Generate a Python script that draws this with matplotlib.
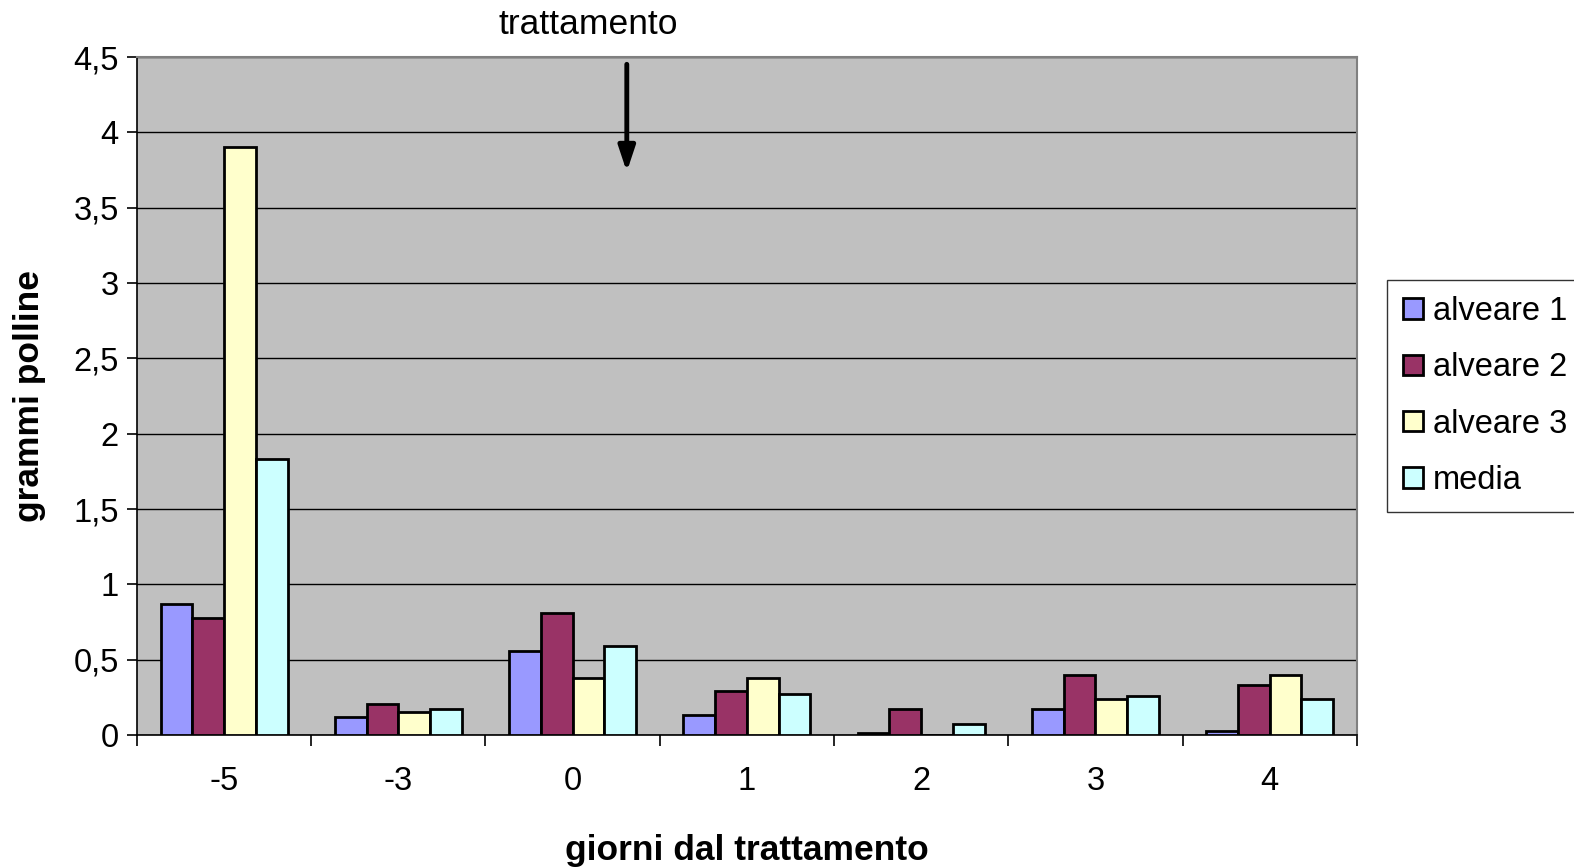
import matplotlib
matplotlib.use("Agg")
import matplotlib.pyplot as plt
import numpy as np

plt.rcParams['font.family'] = ['Liberation Sans', 'DejaVu Sans']

categories = ["-5", "-3", "0", "1", "2", "3", "4"]
alveare1 = [0.87, 0.12, 0.56, 0.13, 0.015, 0.17, 0.03]
alveare2 = [0.78, 0.205, 0.81, 0.29, 0.17, 0.40, 0.33]
alveare3 = [3.90, 0.15, 0.38, 0.38, 0.0, 0.24, 0.40]
media = [1.83, 0.17, 0.59, 0.27, 0.07, 0.26, 0.24]
series_names = ["alveare 1", "alveare 2", "alveare 3", "media"]
yticks = [0, 0.5, 1, 1.5, 2, 2.5, 3, 3.5, 4, 4.5]
ytick_labels = ["0", "0,5", "1", "1,5", "2", "2,5", "3", "3,5", "4", "4,5"]
colors = ["#9999FF", "#993366", "#FFFFCC", "#CCFFFF"]

fig = plt.figure(figsize=(15.74, 8.68), dpi=100)
ax = fig.add_axes([0.087, 0.1532, 0.775, 0.7811])
ax.set_facecolor("#C0C0C0")

x = np.arange(len(categories))
w = 0.182
data = [alveare1, alveare2, alveare3, media]
for i, (vals, name, c) in enumerate(zip(data, series_names, colors)):
    ax.bar(x + (i - 1.5) * w, vals, width=w, color=c, edgecolor="black",
           linewidth=2.0, label=name, zorder=3)

ax.set_xlim(-0.5, len(categories) - 0.5)
ax.set_ylim(0, 4.5)
ax.set_yticks(yticks)
ax.set_yticklabels(ytick_labels, fontsize=23.5)
ax.yaxis.grid(True, color="black", linewidth=1.0, zorder=0)
ax.set_axisbelow(True)
ax.set_xticks(x)
ax.set_xticklabels(categories, fontsize=23.5)
ax.set_xticks(np.arange(-0.5, len(categories), 1), minor=True)
ax.tick_params(axis="x", which="major", length=0, pad=22)
ax.tick_params(axis="x", which="minor", length=8, width=1.2, color="black")
ax.tick_params(axis="y", length=7, width=1.2, pad=6)

for s in ["top", "right"]:
    ax.spines[s].set_color("#808080")
    ax.spines[s].set_linewidth(1.5)
ax.spines["left"].set_color("black")
ax.spines["bottom"].set_color("black")
ax.spines["left"].set_linewidth(1.2)
ax.spines["bottom"].set_linewidth(1.2)

ax.set_xlabel("giorni dal trattamento", fontsize=25.5, fontweight="bold", labelpad=27)
ax.set_ylabel("grammi polline", fontsize=25.5, fontweight="bold", labelpad=20)

ax.annotate("", xy=(2.311, 3.72), xytext=(2.311, 4.47),
            arrowprops=dict(arrowstyle="-|>,head_width=0.5,head_length=1.5",
                            color="black", lw=3.5), zorder=5)
fig.text(588 / 1574, 1 - 24 / 868, "trattamento", fontsize=25.5,
         ha="center", va="center")

leg = fig.legend(loc="upper left", bbox_to_anchor=(1387 / 1574, 1 - 280 / 868),
                 fontsize=23.5, frameon=True, fancybox=False, edgecolor="black",
                 handlelength=0.6, handleheight=0.6, handletextpad=0.3,
                 labelspacing=0.77, borderpad=0.5, borderaxespad=0)
leg.get_frame().set_linewidth(1.0)

fig.savefig("out.png", dpi=100)
